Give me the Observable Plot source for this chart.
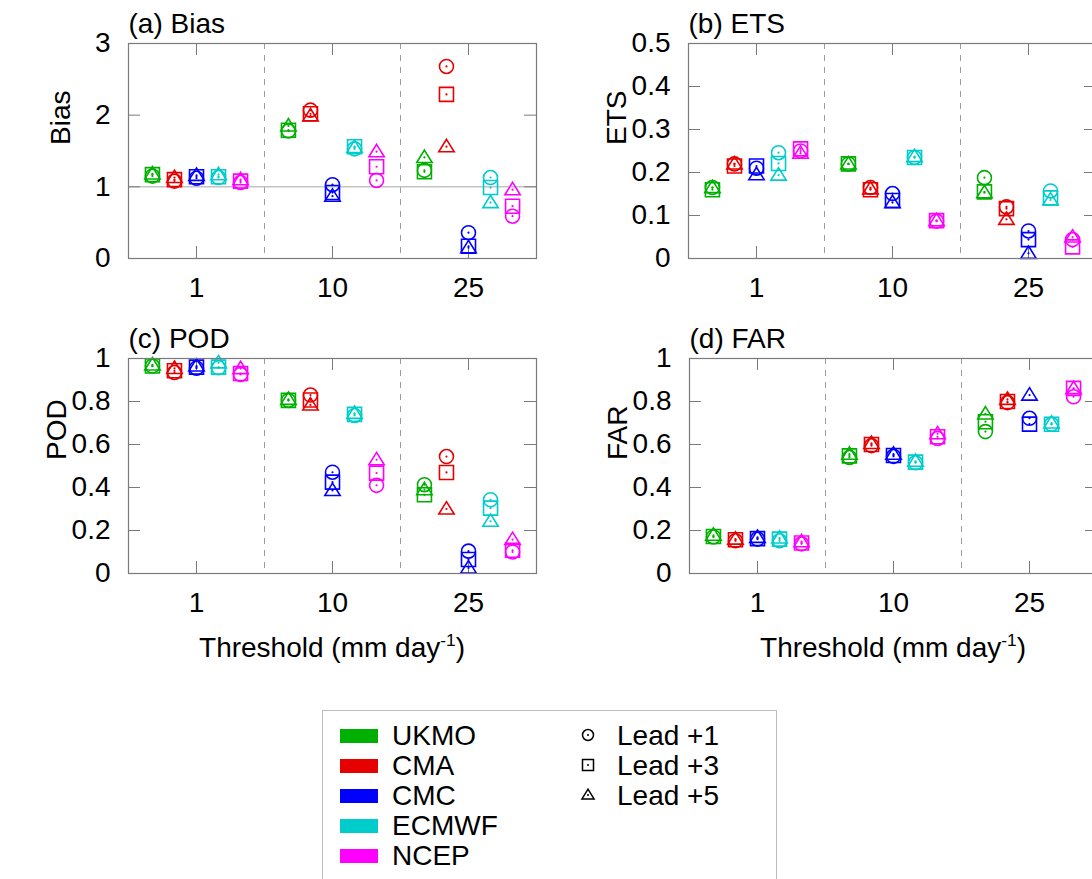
<!DOCTYPE html>
<html>
<head>
<meta charset="utf-8">
<script src="https://cdn.jsdelivr.net/npm/d3@7"></script>
<script src="https://cdn.jsdelivr.net/npm/@observablehq/plot@0.6"></script>
<style>
  html, body { margin: 0; padding: 0; background: #fff; overflow: hidden; width: 1092px; height: 879px; }
  #root { position: relative; width: 1092px; height: 879px; overflow: hidden;
          font-family: "Liberation Sans", Arial, Helvetica, sans-serif; color: #000; }
  .panel { position: absolute; }
  .lab { position: absolute; font-size: 28px; line-height: 28px; white-space: nowrap; }
  .xlab { transform: translateX(-50%); }
  .xlab sup { font-size: 0.62em; vertical-align: 0.62em; line-height: 0; }
  .legend-box { position: absolute; left: 322px; top: 710px; width: 455px; height: 200px;
                border: 1.5px solid #bdbdbd; box-sizing: border-box; }
  .swatch { position: absolute; width: 38px; height: 14px; }
</style>
</head>
<body>
<div id="root"></div>
<script>
// ---------------- data ----------------
const thresholds = ["1", "10", "25"];
const models = ["UKMO", "CMA", "CMC", "ECMWF", "NCEP"];
const modelColors = ["#00b000", "#e60000", "#0000ff", "#00cccc", "#ff00ff"];
const leads = ["Lead +1", "Lead +3", "Lead +5"];

// each array: rows = threshold (1, 10, 25 mm/day), columns = UKMO, CMA, CMC, ECMWF, NCEP
const biasLead1 = [
  1.15, 1.08, 1.12, 1.13, 1.06,
  1.78, 2.07, 1.03, 1.53, 1.09,
  1.23, 2.68, 0.36, 1.13, 0.59
];
const biasLead3 = [
  1.17, 1.10, 1.14, 1.14, 1.08,
  1.79, 2.02, 0.92, 1.56, 1.28,
  1.21, 2.29, 0.17, 0.99, 0.73
];
const biasLead5 = [
  1.18, 1.13, 1.16, 1.17, 1.10,
  1.85, 1.99, 0.87, 1.55, 1.49,
  1.41, 1.56, 0.15, 0.78, 0.96
];

const etsLead1 = [
  0.165, 0.220, 0.210, 0.246, 0.250,
  0.220, 0.165, 0.151, 0.235, 0.087,
  0.188, 0.120, 0.064, 0.157, 0.044
];
const etsLead3 = [
  0.160, 0.215, 0.215, 0.221, 0.255,
  0.220, 0.160, 0.135, 0.235, 0.088,
  0.155, 0.116, 0.044, 0.141, 0.027
];
const etsLead5 = [
  0.165, 0.220, 0.195, 0.194, 0.245,
  0.220, 0.162, 0.130, 0.237, 0.088,
  0.153, 0.091, 0.012, 0.136, 0.050
];

const podLead1 = [
  0.965, 0.935, 0.955, 0.957, 0.926,
  0.805, 0.830, 0.471, 0.735, 0.410,
  0.413, 0.544, 0.104, 0.343, 0.100
];
const podLead3 = [
  0.965, 0.943, 0.960, 0.960, 0.930,
  0.805, 0.807, 0.425, 0.740, 0.467,
  0.366, 0.470, 0.065, 0.304, 0.108
];
const podLead5 = [
  0.970, 0.954, 0.965, 0.980, 0.953,
  0.810, 0.784, 0.386, 0.745, 0.529,
  0.390, 0.300, 0.026, 0.243, 0.158
];

const farLead1 = [
  0.170, 0.152, 0.160, 0.152, 0.138,
  0.540, 0.595, 0.545, 0.515, 0.628,
  0.660, 0.795, 0.722, 0.694, 0.822
];
const farLead3 = [
  0.172, 0.157, 0.162, 0.160, 0.142,
  0.547, 0.600, 0.549, 0.518, 0.636,
  0.706, 0.800, 0.695, 0.694, 0.861
];
const farLead5 = [
  0.178, 0.160, 0.168, 0.165, 0.148,
  0.555, 0.605, 0.555, 0.522, 0.650,
  0.742, 0.810, 0.830, 0.700, 0.860
];

const biasTicks = [0, 1, 2, 3];
const etsTicks = [0, 0.1, 0.2, 0.3, 0.4, 0.5];
const probTicks = [0, 0.2, 0.4, 0.6, 0.8, 1];

// ---------------- helpers ----------------
const GROUP_OFFSET = 0.162; // spacing between models inside a threshold group (x units)
function toRows(arrs) {
  const rows = [];
  thresholds.forEach((t, ti) => {
    models.forEach((m, mi) => {
      leads.forEach((l, li) => {
        rows.push({
          x: ti + 0.5 + (mi - 2) * GROUP_OFFSET,
          value: arrs[li][ti * models.length + mi],
          model: m,
          lead: l
        });
      });
    });
  });
  return rows;
}

const symCircle = { draw(ctx, size) { const r = Math.sqrt(size / Math.PI); ctx.moveTo(r, 0); ctx.arc(0, 0, r, 0, 2 * Math.PI); } };
const symSquare = { draw(ctx, size) { const r = Math.sqrt(size / Math.PI); ctx.rect(-r, -r, 2 * r, 2 * r); } };
const symTriangle = { draw(ctx, size) { const r = Math.sqrt(size / Math.PI); ctx.moveTo(0, -1.05 * r); ctx.lineTo(1.1 * r, 0.72 * r); ctx.lineTo(-1.1 * r, 0.72 * r); ctx.closePath(); } };
const leadSymbols = [symCircle, symSquare, symTriangle];

const groupCenters = thresholds.map((t, i) => i + 0.5);
const dividers = thresholds.slice(1).map((t, i) => i + 1);
const FRAME = "#7a7a7a";

function panel({ rows, yDomain, yTicks, title, ylab, left, top, refLine, labelDx }) {
  const width = 560, height = 320;
  const mL = 128, mR = 24, mT = 43, mB = height - 43 - 215;
  const W = width - mL - mR, H = height - mT - mB;
  const marks = [
    Plot.ruleX(dividers, { stroke: "#9c9c9c", strokeWidth: 1, strokeDasharray: "6,6" }),
    refLine != null ? Plot.ruleY([refLine], { stroke: "#c4c4c4", strokeWidth: 1.5 }) : null,
    Plot.tickX(groupCenters, { stroke: FRAME, insetTop: H - 12 }),
    Plot.tickX(groupCenters, { stroke: FRAME, insetBottom: H - 12 }),
    Plot.tickY(yTicks, { stroke: FRAME, insetRight: W - 12 }),
    Plot.tickY(yTicks, { stroke: FRAME, insetLeft: W - 12 }),
    Plot.axisX(groupCenters, { tickSize: 0, tickPadding: 19, label: null, fontSize: 28,
      tickFormat: d => thresholds[Math.round(d - 0.5)] }),
    Plot.axisY(yTicks, { tickSize: 0, tickPadding: 18, label: null, fontSize: 28,
      tickFormat: d => String(d) }),
    Plot.dot(rows, { x: "x", y: "value", stroke: "model", symbol: "lead", r: 7, strokeWidth: 1.6, fill: "none" }),
    Plot.dot(rows, { x: "x", y: "value", fill: "model", r: 1.1 }),
    Plot.text([title], { frameAnchor: "top-left", textAnchor: "start", lineAnchor: "bottom", dy: -11, fontSize: 28 }),
    Plot.text([ylab], { frameAnchor: "left", dx: labelDx, dy: -6, rotate: -90, fontSize: 28 }),
    Plot.frame({ stroke: FRAME, strokeWidth: 1.2 })
  ].filter(Boolean);

  const svg = Plot.plot({
    width, height,
    marginLeft: mL, marginRight: mR, marginTop: mT, marginBottom: mB,
    x: { domain: [0, 3] },
    y: { domain: yDomain },
    color: { domain: models, range: modelColors },
    symbol: { domain: leads, range: leadSymbols },
    style: { fontFamily: "'Liberation Sans', Arial, Helvetica, sans-serif", fontSize: "28px", color: "#000", background: "transparent", overflow: "visible" },
    marks
  });
  svg.classList.add("panel");
  svg.style.left = left + "px";
  svg.style.top = top + "px";
  return svg;
}

const root = document.getElementById("root");
root.appendChild(panel({ rows: toRows([biasLead1, biasLead3, biasLead5]), yDomain: [0, 3], yTicks: biasTicks,
  title: "(a) Bias", ylab: "Bias", left: 0, top: 0, refLine: 1, labelDx: -67 }));
root.appendChild(panel({ rows: toRows([etsLead1, etsLead3, etsLead5]), yDomain: [0, 0.5], yTicks: etsTicks,
  title: "(b) ETS", ylab: "ETS", left: 560, top: 0, labelDx: -71 }));
root.appendChild(panel({ rows: toRows([podLead1, podLead3, podLead5]), yDomain: [0, 1], yTicks: probTicks,
  title: "(c) POD", ylab: "POD", left: 0, top: 315, labelDx: -71 }));
root.appendChild(panel({ rows: toRows([farLead1, farLead3, farLead5]), yDomain: [0, 1], yTicks: probTicks,
  title: "(d) FAR", ylab: "FAR", left: 561, top: 315, labelDx: -71 }));

// x-axis titles (with superscript)
[[332, 634], [893, 634]].forEach(([cx, ty]) => {
  const d = document.createElement("div");
  d.className = "lab xlab";
  d.style.left = cx + "px";
  d.style.top = ty + "px";
  d.innerHTML = "Threshold (mm day<sup>-1</sup>)";
  root.appendChild(d);
});

// legend
const box = document.createElement("div");
box.className = "legend-box";
root.appendChild(box);
models.forEach((m, i) => {
  const sw = document.createElement("div");
  sw.className = "swatch";
  sw.style.left = "340px";
  sw.style.top = (729 + i * 30) + "px";
  sw.style.background = modelColors[i];
  root.appendChild(sw);
  const t = document.createElement("div");
  t.className = "lab";
  t.style.left = "392px";
  t.style.top = (722 + i * 30) + "px";
  t.textContent = m;
  root.appendChild(t);
});
leads.forEach((l, i) => {
  const s = d3.create("svg").attr("width", 24).attr("height", 24)
    .style("position", "absolute").style("left", (588 - 12) + "px").style("top", (735 + i * 30 - 12) + "px");
  const g = s.append("g").attr("transform", "translate(12,12)");
  g.append("path").attr("d", d3.symbol(leadSymbols[i], 5.5 * 5.5 * Math.PI)())
    .attr("fill", "none").attr("stroke", "#000").attr("stroke-width", 1.5);
  g.append("circle").attr("r", 1).attr("fill", "#000");
  root.appendChild(s.node());
  const t = document.createElement("div");
  t.className = "lab";
  t.style.left = "617px";
  t.style.top = (722 + i * 30) + "px";
  t.textContent = l;
  root.appendChild(t);
});
</script>
</body>
</html>
